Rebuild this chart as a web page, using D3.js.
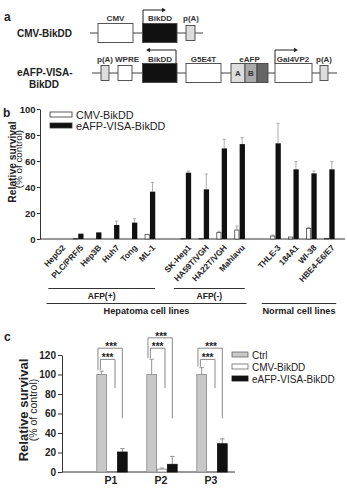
<!DOCTYPE html>
<html><head><meta charset="utf-8">
<script src="https://cdn.jsdelivr.net/npm/d3@7"></script>
<style>body{margin:0;background:#fff} svg{display:block;font-family:"Liberation Sans",Arial,sans-serif}</style>
</head><body><svg id="fig" width="347" height="490"></svg>
<script>
// ---------- Panel a: construct maps ----------
const constructNames = ["CMV-BikDD", "eAFP-VISA-BikDD"];
const construct1Labels = ["CMV", "BikDD", "p(A)"];
const construct1Kinds = ["open", "black", "pa"];
const construct2Labels = ["p(A)", "WPRE", "BikDD", "G5E4T", "A", "B", "", "Gal4VP2", "p(A)"];
const construct2Kinds = ["pa", "small", "black", "open", "lightA", "midB", "dark", "open", "pa"];

// ---------- Panel b ----------
const bCategories = ["HepG2", "PLC/PRF/5", "Hep3B", "Huh7", "Tong", "ML-1",
  "SK-Hep1", "HA59T/VGH", "HA22T/VGH", "Mahlavu",
  "THLE-3", "184A1", "WI-38", "HBE4-E6/E7"];
const bGroupOf = ["AFP(+)", "AFP(+)", "AFP(+)", "AFP(+)", "AFP(+)", "AFP(+)",
  "AFP(-)", "AFP(-)", "AFP(-)", "AFP(-)",
  "Normal", "Normal", "Normal", "Normal"];
const bCMV =      [0, 0.5, 0, 0, 0, 3.6, 0.5, 0.5, 4.9, 6.9, 2.3, 1.5, 8.2, 0.5];
const bCMVErr =   [0, 0.5, 0, 0, 0, 3.6, 0.5, 0.5, 6.0, 10.0, 3.0, 1.5, 9.0, 0.5];
const bEAFP =     [0, 4.1, 5.1, 10.8, 12.6, 36.4, 51.0, 38.2, 69.7, 73.0, 73.6, 53.6, 50.5, 53.6];
const bEAFPErr =  [0, 4.1, 5.1, 13.8, 15.6, 43.6, 52.3, 50.0, 76.7, 78.0, 89.0, 59.5, 52.3, 59.5];
const bYTicks = [0, 20, 40, 60, 80, 100];
const bSubgroups = ["AFP(+)", "AFP(-)"];
const bSupergroups = ["Hepatoma cell lines", "Normal cell lines"];
const bSuperMembers = [["AFP(+)", "AFP(-)"], ["Normal"]];
const seriesNames = ["CMV-BikDD", "eAFP-VISA-BikDD"];

// ---------- Panel c ----------
const cCategories = ["P1", "P2", "P3"];
const cSeries = ["Ctrl", "CMV-BikDD", "eAFP-VISA-BikDD"];
const cCtrl = [100, 100, 100];
const cCtrlErr = [103.4, 115.7, 107];
const cCMV = [0.5, 3, 0.3];
const cCMVErr = [0.5, 4, 0.3];
const cEAFP = [20.5, 7.9, 29];
const cEAFPErr = [24, 16, 34];
const cYTicks = [0, 20, 40, 60, 80, 100, 120];
const cOuterTop = [127, 137.6, 127];
const cInnerTop = [115.5, 127, 115.5];
const cOuterDrop = [55, 55, 55];
const cInnerDrop = [86, 86, 86];
const sigLabel = "***";

const svg = d3.select("#fig");
const ink = "#222";

// ================= Panel a =================
svg.append("text").attr("x", 4).attr("y", 21).attr("font-size", 12).attr("font-weight", "bold").attr("fill", ink).text("a");

const fills = {open: "#fff", black: "#111", pa: "#ddd", small: "#fff", lightA: "#ddd", midB: "#aaa", dark: "#666"};
const row1X = [[98, 133], [142.5, 177], [186, 195]];
const row2X = [[101, 109], [118, 132], [142.5, 177], [186, 221], [231, 245], [245, 257], [257, 268], [275, 312], [320, 328]];
const rows = [
  {labels: construct1Labels, kinds: construct1Kinds, xs: row1X, cy: 33, h: 19, line: [90, 203]},
  {labels: construct2Labels, kinds: construct2Kinds, xs: row2X, cy: 73, h: 19, line: [92, 337]}
];
rows.forEach((r, ri) => {
  const g = svg.append("g");
  g.append("line").attr("x1", r.line[0]).attr("x2", r.line[1]).attr("y1", r.cy).attr("y2", r.cy).attr("stroke", "#444").attr("stroke-width", 1);
  r.kinds.forEach((k, i) => {
    const small = (k === "pa" || k === "small");
    const h = small ? 15 : r.h;
    g.append("rect").attr("x", r.xs[i][0]).attr("y", r.cy - h / 2).attr("width", r.xs[i][1] - r.xs[i][0]).attr("height", h)
      .attr("fill", fills[k]).attr("stroke", "#444").attr("stroke-width", 0.9);
  });
});
const topLbl = (x, y, t) => svg.append("text").attr("x", x).attr("y", y).attr("text-anchor", "middle").attr("font-size", 8).attr("font-weight", "bold").attr("fill", "#333").text(t);
topLbl(115.5, 21, construct1Labels[0]);
topLbl(160, 21, construct1Labels[1]);
topLbl(191, 21, construct1Labels[2]);
topLbl(105, 62, construct2Labels[0]);
topLbl(127, 62, construct2Labels[1]);
topLbl(160, 62, construct2Labels[2]);
topLbl(203.5, 62, construct2Labels[3]);
topLbl(249.5, 62, "eAFP");
topLbl(293, 62, construct2Labels[7]);
topLbl(324, 62, construct2Labels[8]);
svg.append("text").attr("x", 238).attr("y", 76).attr("text-anchor", "middle").attr("font-size", 8).attr("font-weight", "bold").attr("fill", "#333").text(construct2Labels[4]);
svg.append("text").attr("x", 251).attr("y", 76).attr("text-anchor", "middle").attr("font-size", 8).attr("font-weight", "bold").attr("fill", "#333").text(construct2Labels[5]);
const arrow = (x0, yb, yt, x1) => {
  svg.append("path").attr("d", `M${x0},${yb}V${yt}H${x1}`).attr("fill", "none").attr("stroke", "#222").attr("stroke-width", 1);
  const dir = x1 > x0 ? 1 : -1;
  svg.append("path").attr("d", `M${x1 + dir * 3},${yt}L${x1 - dir * 1},${yt - 2.2}L${x1 - dir * 1},${yt + 2.2}Z`).attr("fill", "#222");
};
arrow(143, 23.5, 10, 163);
arrow(176, 63.5, 50, 149);
arrow(275, 63.5, 50, 295);
svg.append("text").attr("x", 17).attr("y", 37).attr("font-size", 10).attr("font-weight", "bold").attr("fill", ink).text(constructNames[0]);
svg.append("text").attr("x", 17).attr("y", 76).attr("font-size", 10).attr("font-weight", "bold").attr("fill", ink).text("eAFP-VISA-");
svg.append("text").attr("x", 44).attr("y", 88).attr("text-anchor", "middle").attr("font-size", 10).attr("font-weight", "bold").attr("fill", ink).text("BikDD");

// ================= Panel b =================
svg.append("text").attr("x", 3).attr("y", 117).attr("font-size", 12).attr("font-weight", "bold").attr("fill", ink).text("b");
const slots = [];
bCategories.forEach((c, i) => {
  if (i > 0 && bGroupOf[i] !== bGroupOf[i - 1]) slots.push("__gap" + i);
  slots.push(c);
});
const xB = d3.scaleBand().domain(slots).range([51, 338]);
const yB = d3.scaleLinear().domain([0, 100]).range([239, 109]);
const cxB = c => xB(c) + xB.bandwidth() / 2;
const gB = svg.append("g");
const axL = gB.append("g").attr("transform", "translate(40,0)")
  .call(d3.axisLeft(yB).tickValues(bYTicks).tickSize(3).tickSizeOuter(0).tickPadding(1.5));
axL.select(".domain").attr("stroke", "#333");
axL.selectAll(".tick line").attr("stroke", "#333");
axL.selectAll("text").attr("font-size", 9.5).attr("font-weight", "bold").attr("fill", ink).attr("font-family", "Liberation Sans, Arial, sans-serif");
gB.append("line").attr("x1", 40).attr("x2", 345).attr("y1", yB(0)).attr("y2", yB(0)).attr("stroke", "#333");
const bw = 5;
bCategories.forEach((c, i) => {
  const cx = cxB(c);
  [[bCMV[i], bCMVErr[i], cx - bw / 2], [bEAFP[i], bEAFPErr[i], cx + bw / 2 + 0.3]].forEach(([v, e, ex]) => {
    if (e > v + 0.2) {
      gB.append("line").attr("x1", ex).attr("x2", ex).attr("y1", yB(v)).attr("y2", yB(e)).attr("stroke", "#999").attr("stroke-width", 0.8);
      gB.append("line").attr("x1", ex - 1.6).attr("x2", ex + 1.6).attr("y1", yB(e)).attr("y2", yB(e)).attr("stroke", "#999").attr("stroke-width", 0.8);
    }
  });
  if (bCMV[i] > 0) gB.append("rect").attr("x", cx - bw + 0.4).attr("y", yB(bCMV[i])).attr("width", bw - 0.8).attr("height", yB(0) - yB(bCMV[i]))
    .attr("fill", "#fff").attr("stroke", "#444").attr("stroke-width", 0.8);
  if (bEAFP[i] > 0) gB.append("rect").attr("x", cx + 0.3).attr("y", yB(bEAFP[i])).attr("width", bw + 0.3).attr("height", yB(0) - yB(bEAFP[i]))
    .attr("fill", "#111");
  gB.append("text").attr("transform", `translate(${cx + 6},${248}) rotate(-47)`).attr("text-anchor", "end")
    .attr("font-size", 8.3).attr("font-weight", "bold").attr("fill", ink).text(c);
});
const step = xB.step();
bSubgroups.forEach(gname => {
  const mem = bCategories.filter((c, i) => bGroupOf[i] === gname);
  const x0 = cxB(mem[0]) - 0.65 * step, x1 = cxB(mem[mem.length - 1]) + 0.3 * step;
  gB.append("line").attr("x1", x0).attr("x2", x1).attr("y1", 288.5).attr("y2", 288.5).attr("stroke", "#333");
  gB.append("text").attr("x", (x0 + x1) / 2).attr("y", 298.5).attr("text-anchor", "middle").attr("font-size", 8.5).attr("font-weight", "bold").attr("fill", ink).text(gname);
});
bSupergroups.forEach((sname, si) => {
  const mem = bCategories.filter((c, i) => bSuperMembers[si].includes(bGroupOf[i]));
  const x0 = cxB(mem[0]) - 0.75 * step, x1 = cxB(mem[mem.length - 1]) + 0.4 * step;
  gB.append("line").attr("x1", x0).attr("x2", x1).attr("y1", 303.5).attr("y2", 303.5).attr("stroke", "#333");
  gB.append("text").attr("x", (x0 + x1) / 2).attr("y", 314).attr("text-anchor", "middle").attr("font-size", 9.2).attr("font-weight", "bold").attr("fill", ink).text(sname);
});
gB.append("text").attr("transform", "translate(15.5,162) rotate(-90)").attr("text-anchor", "middle").attr("font-size", 10.3).attr("font-weight", "bold").attr("fill", ink).text("Relative survival");
gB.append("text").attr("transform", "translate(21.5,159) rotate(-90)").attr("text-anchor", "middle").attr("font-size", 9.8).attr("fill", ink).text("(% of control)");
seriesNames.forEach((s, i) => {
  gB.append("rect").attr("x", 50).attr("y", 112 + i * 11).attr("width", 22).attr("height", 5)
    .attr("fill", i === 0 ? "#fff" : "#111").attr("stroke", "#333").attr("stroke-width", 0.8);
  gB.append("text").attr("x", 76).attr("y", 118.5 + i * 11).attr("font-size", 10.8).attr("fill", ink).text(s);
});

// ================= Panel c =================
svg.append("text").attr("x", 4).attr("y", 341).attr("font-size", 12).attr("font-weight", "bold").attr("fill", ink).text("c");
const xC = d3.scaleBand().domain(cCategories).range([87, 237]);
const xSub = d3.scaleBand().domain(cSeries).range([-15.5, 15.5]);
const yC = d3.scaleLinear().domain([0, 120]).range([472, 355]);
const gC = svg.append("g");
const axC = gC.append("g").attr("transform", "translate(62,0)")
  .call(d3.axisLeft(yC).tickValues(cYTicks).tickSize(4).tickSizeOuter(0).tickPadding(2));
axC.select(".domain").attr("stroke", "#333");
axC.selectAll(".tick line").attr("stroke", "#333");
axC.selectAll("text").attr("font-size", 10).attr("font-weight", "bold").attr("fill", ink).attr("font-family", "Liberation Sans, Arial, sans-serif");
gC.append("line").attr("x1", 62).attr("x2", 235).attr("y1", yC(0)).attr("y2", yC(0)).attr("stroke", "#333");
const cVals = [cCtrl, cCMV, cEAFP], cErrs = [cCtrlErr, cCMVErr, cEAFPErr];
const cFill = ["#c8c8c8", "#fff", "#111"], cStroke = ["#888", "#888", "#111"];
cCategories.forEach((p, i) => {
  const gx = xC(p) + xC.bandwidth() / 2;
  cSeries.forEach((s, si) => {
    const v = cVals[si][i], e = cErrs[si][i];
    const x = gx + xSub(s), w = xSub.bandwidth();
    const ex = x + w / 2;
    if (e > v + 0.2) {
      gC.append("line").attr("x1", ex).attr("x2", ex).attr("y1", yC(v)).attr("y2", yC(e)).attr("stroke", "#888").attr("stroke-width", 0.9);
      gC.append("line").attr("x1", ex - 2.2).attr("x2", ex + 2.2).attr("y1", yC(e)).attr("y2", yC(e)).attr("stroke", "#888").attr("stroke-width", 0.9);
    }
    gC.append("rect").attr("x", x + 0.3).attr("y", yC(v)).attr("width", w - 0.6).attr("height", yC(0) - yC(v))
      .attr("fill", cFill[si]).attr("stroke", cStroke[si]).attr("stroke-width", 0.8);
  });
  const ctrlC = gx + xSub(cSeries[0]) + xSub.bandwidth() / 2;
  const cmvC = gx + xSub(cSeries[1]) + xSub.bandwidth() / 2;
  const eafC = gx + xSub(cSeries[2]) + xSub.bandwidth() / 2;
  const ox0 = ctrlC - 3.7, ox1 = eafC, ix0 = ctrlC - 1.3, ix1 = cmvC + 3;
  gC.append("path").attr("d", `M${ox0},${yC(cCtrlErr[i]) - 1}V${yC(cOuterTop[i])}H${ox1}V${yC(cOuterDrop[i])}`).attr("fill", "none").attr("stroke", "#888").attr("stroke-width", 1);
  gC.append("path").attr("d", `M${ix0},${yC(cCtrlErr[i]) - 1}V${yC(cInnerTop[i])}H${ix1}V${yC(cInnerDrop[i])}`).attr("fill", "none").attr("stroke", "#888").attr("stroke-width", 1);
  gC.append("text").attr("x", (ox0 + ox1) / 2 + 1).attr("y", yC(cOuterTop[i]) + 1.8).attr("text-anchor", "middle").attr("font-size", 10).attr("font-weight", "bold").attr("fill", ink).text(sigLabel);
  gC.append("text").attr("x", (ix0 + ix1) / 2).attr("y", yC(cInnerTop[i]) + 1.8).attr("text-anchor", "middle").attr("font-size", 10).attr("font-weight", "bold").attr("fill", ink).text(sigLabel);
  gC.append("text").attr("x", gx - 1).attr("y", 484).attr("text-anchor", "middle").attr("font-size", 10.5).attr("font-weight", "bold").attr("fill", ink).text(p);
});
gC.append("text").attr("transform", "translate(27.5,410) rotate(-90)").attr("text-anchor", "middle").attr("font-size", 13).attr("font-weight", "bold").attr("fill", ink).text("Relative survival");
gC.append("text").attr("transform", "translate(37,410) rotate(-90)").attr("text-anchor", "middle").attr("font-size", 10.5).attr("fill", ink).text("(% of control)");
cSeries.forEach((s, i) => {
  gC.append("rect").attr("x", 232).attr("y", 352 + i * 12).attr("width", 16).attr("height", 5)
    .attr("fill", cFill[i]).attr("stroke", i === 2 ? "#111" : "#666").attr("stroke-width", 0.8);
  gC.append("text").attr("x", 252).attr("y", 358.5 + i * 12).attr("font-size", 10).attr("fill", ink).text(s);
});
</script></body></html>
